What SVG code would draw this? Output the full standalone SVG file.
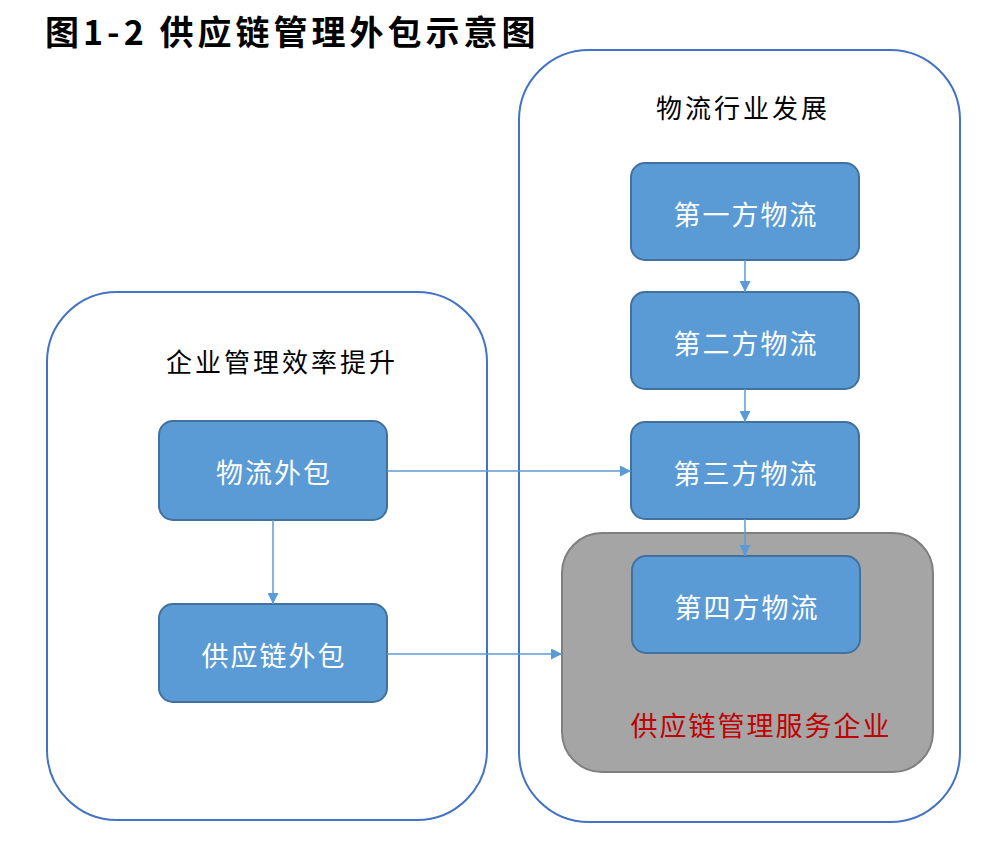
<svg xmlns="http://www.w3.org/2000/svg" width="982" height="848" viewBox="0 0 982 848">
<style>
.cont{fill:#fff;stroke:#4472C4;stroke-width:2}
.box{fill:#5B9BD5;stroke:#41719C;stroke-width:2}
.bt{fill:#fff;font-family:"Noto Sans CJK SC","Liberation Sans",sans-serif;font-size:27px;letter-spacing:2px;text-anchor:middle;dominant-baseline:central}
.lt{fill:#000;font-family:"Noto Sans CJK SC","Liberation Sans",sans-serif;font-size:26px;letter-spacing:3px;text-anchor:middle;dominant-baseline:central}
.conn{stroke:#5B9BD5;stroke-width:1.5;fill:none;marker-end:url(#ah)}
</style>
<defs>
<marker id="ah" viewBox="0 0 10 10" refX="10" refY="5" markerWidth="11" markerHeight="11" markerUnits="userSpaceOnUse" orient="auto"><path d="M0,0L10,5L0,10Z" fill="#5B9BD5"/></marker>
</defs>
<text x="45" y="45" font-family="Noto Sans CJK SC,Liberation Sans,sans-serif" font-size="34" font-weight="bold" letter-spacing="4" fill="#000">图1-2 供应链管理外包示意图</text>
<g id="left-container"><rect class="cont" x="47" y="292" width="440" height="528" rx="70"/><text class="lt" x="282" y="360">企业管理效率提升</text></g>
<g id="right-container"><rect class="cont" x="519" y="50" width="441" height="772" rx="70"/><text class="lt" x="743" y="106">物流行业发展</text></g>
<g id="scm-service"><rect x="562" y="533" width="371" height="239" rx="40" fill="#A5A5A5" stroke="#7F7F7F" stroke-width="2"/><text x="761" y="724" font-family="Noto Sans CJK SC,Liberation Sans,sans-serif" font-size="27" letter-spacing="2" fill="#C00000" text-anchor="middle" dominant-baseline="central">供应链管理服务企业</text></g>
<g id="n1"><rect class="box" x="631" y="163" width="228" height="97" rx="14"/><text class="bt" x="746" y="213">第一方物流</text></g>
<g id="n2"><rect class="box" x="631" y="292" width="228" height="97" rx="14"/><text class="bt" x="746" y="342">第二方物流</text></g>
<g id="n3"><rect class="box" x="631" y="422" width="228" height="97" rx="14"/><text class="bt" x="746" y="472">第三方物流</text></g>
<g id="n4"><rect class="box" x="632" y="556" width="228" height="97" rx="14"/><text class="bt" x="747" y="606">第四方物流</text></g>
<g id="wl"><rect class="box" x="159" y="421" width="228" height="99" rx="14"/><text class="bt" x="274" y="471">物流外包</text></g>
<g id="gyl"><rect class="box" x="159" y="604" width="228" height="98" rx="14"/><text class="bt" x="274" y="654">供应链外包</text></g>
<g id="connectors">
<line class="conn" x1="273" y1="520" x2="273" y2="604"/>
<line class="conn" x1="387" y1="471" x2="631" y2="471"/>
<line class="conn" x1="387" y1="654" x2="562" y2="654"/>
<line class="conn" x1="745" y1="260" x2="745" y2="292"/>
<line class="conn" x1="745" y1="389" x2="745" y2="422"/>
<line class="conn" x1="745" y1="519" x2="745" y2="556"/>
</g>
</svg>
